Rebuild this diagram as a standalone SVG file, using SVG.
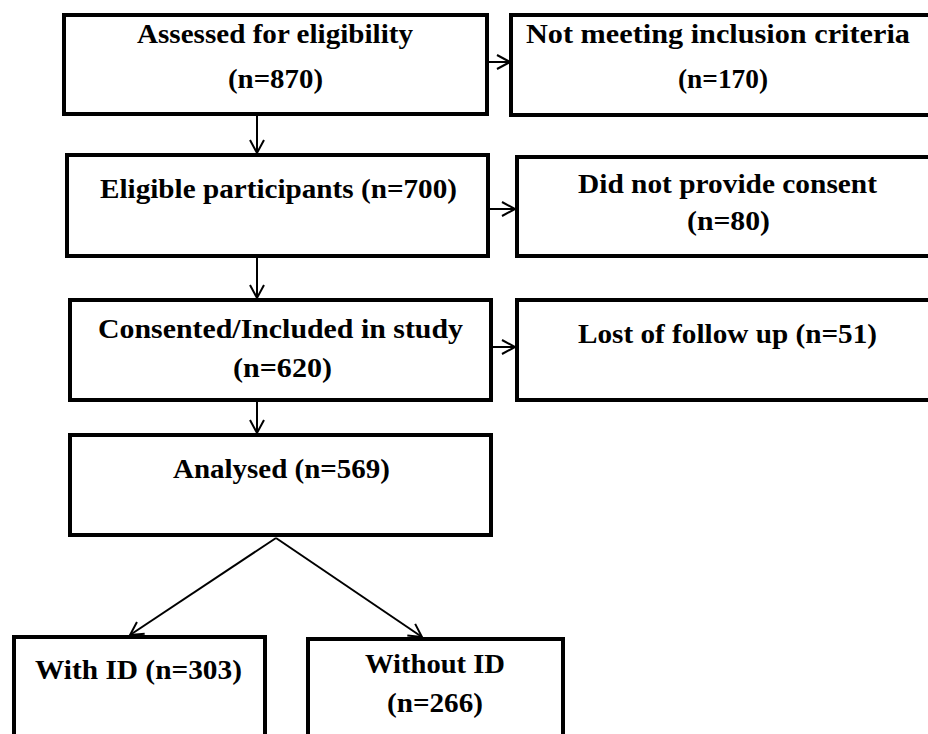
<svg xmlns="http://www.w3.org/2000/svg" width="928" height="734" viewBox="0 0 928 734">
<style>
.box{fill:#fff;stroke:#000;stroke-width:4}
.t{font-family:"Liberation Serif","Times New Roman",serif;font-weight:bold;font-size:27px;fill:#000;text-anchor:middle}
.c{fill:none;stroke:#000;stroke-width:2}
</style>
<defs>
<marker id="ah" markerUnits="userSpaceOnUse" markerWidth="16" markerHeight="16" refX="13" refY="7" orient="auto" overflow="visible">
<path d="M0,0 L13,7 L0,14" fill="none" stroke="#000" stroke-width="2"/>
</marker>
</defs>
<rect width="928" height="734" fill="#fff"/>
<g id="connectors">
<line class="c" x1="489" y1="62" x2="510" y2="62" marker-end="url(#ah)"/>
<line class="c" x1="490" y1="209" x2="515" y2="209" marker-end="url(#ah)"/>
<line class="c" x1="493" y1="347" x2="515" y2="347" marker-end="url(#ah)"/>
<line class="c" x1="257" y1="116" x2="257" y2="153" marker-end="url(#ah)"/>
<line class="c" x1="257" y1="258" x2="257" y2="298" marker-end="url(#ah)"/>
<line class="c" x1="257" y1="402" x2="257" y2="433" marker-end="url(#ah)"/>
<line class="c" x1="276" y1="538" x2="130" y2="635" marker-end="url(#ah)"/>
<line class="c" x1="276" y1="538" x2="422" y2="637" marker-end="url(#ah)"/>
</g>
<g id="n1"><rect class="box" x="64" y="15" width="423" height="99"/>
<text class="t" x="275" y="43" textLength="276" lengthAdjust="spacingAndGlyphs">Assessed for eligibility</text>
<text class="t" x="275.5" y="88" textLength="95" lengthAdjust="spacingAndGlyphs">(n=870)</text></g>
<g id="n2"><rect class="box" x="511" y="15" width="430" height="100"/>
<text class="t" x="718" y="43" textLength="384" lengthAdjust="spacingAndGlyphs">Not meeting inclusion criteria</text>
<text class="t" x="723" y="88" textLength="90" lengthAdjust="spacingAndGlyphs">(n=170)</text></g>
<g id="n3"><rect class="box" x="67" y="155" width="421" height="101"/>
<text class="t" x="278.5" y="198" textLength="357" lengthAdjust="spacingAndGlyphs">Eligible participants (n=700)</text></g>
<g id="n4"><rect class="box" x="517" y="157" width="430" height="99"/>
<text class="t" x="727.5" y="193" textLength="299" lengthAdjust="spacingAndGlyphs">Did not provide consent</text>
<text class="t" x="728.5" y="230" textLength="83" lengthAdjust="spacingAndGlyphs">(n=80)</text></g>
<g id="n5"><rect class="box" x="70" y="300" width="421" height="100"/>
<text class="t" x="280.5" y="338" textLength="365" lengthAdjust="spacingAndGlyphs">Consented/Included in study</text>
<text class="t" x="282.5" y="377" textLength="99" lengthAdjust="spacingAndGlyphs">(n=620)</text></g>
<g id="n6"><rect class="box" x="517" y="300" width="430" height="100"/>
<text class="t" x="727.5" y="343" textLength="299" lengthAdjust="spacingAndGlyphs">Lost of follow up (n=51)</text></g>
<g id="n7"><rect class="box" x="70" y="435" width="421" height="100"/>
<text class="t" x="281.5" y="478" textLength="217" lengthAdjust="spacingAndGlyphs">Analysed (n=569)</text></g>
<g id="n8"><rect class="box" x="14" y="637" width="251" height="120"/>
<text class="t" x="138.5" y="679" textLength="207" lengthAdjust="spacingAndGlyphs">With ID (n=303)</text></g>
<g id="n9"><rect class="box" x="308" y="639" width="255" height="120"/>
<text class="t" x="435" y="673" textLength="140" lengthAdjust="spacingAndGlyphs">Without ID</text>
<text class="t" x="435" y="712" textLength="96" lengthAdjust="spacingAndGlyphs">(n=266)</text></g>
</svg>
